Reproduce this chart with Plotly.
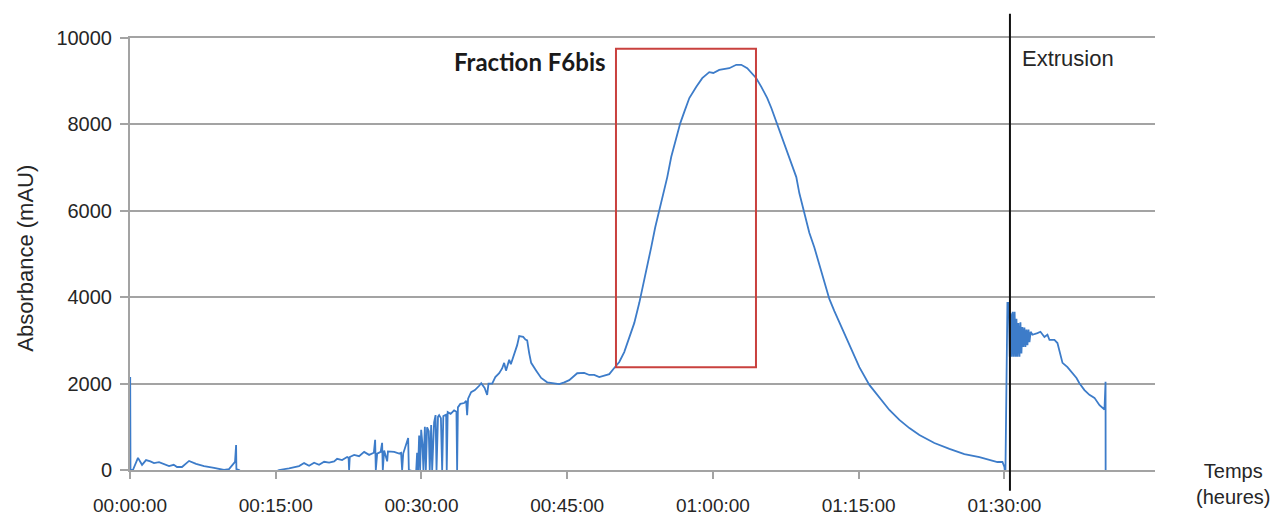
import plotly.graph_objects as go

# Chromatogram trace: elution time (minutes) and UV absorbance (mAU)
time_min = [
    0.0, 0.02, 0.05, 0.3, 0.82, 1.24, 1.65, 2.1, 2.47, 2.99, 3.5, 4.02, 4.5, 4.84,
    5.35, 6.08, 6.8, 7.62, 8.65, 9.68, 10.19, 10.6, 10.81, 10.92, 10.95, 11.22,
    12.0, 14.0, 15.34,
    16.37, 17.40, 17.92, 18.43, 18.95, 19.46, 19.98, 20.5, 21.01, 21.32, 21.83,
    22.35, 22.50, 22.55, 22.62, 23.07, 23.58, 24.10, 24.61, 25.10, 25.23, 25.30,
    25.44, 25.80, 25.95, 26.02, 26.16, 26.47, 26.55, 27.19, 27.70, 27.90, 28.01,
    28.12, 28.63, 28.70, 29.45, 29.55, 29.65, 29.76, 29.86, 29.97, 30.10, 30.20,
    30.35, 30.45, 30.58, 30.75, 30.85, 31.00, 31.10, 31.30, 31.45, 31.55, 31.70,
    31.82, 32.0, 32.13, 32.25, 32.54, 32.60, 32.70, 33.0, 33.36, 33.60, 33.67,
    33.75, 34.0, 34.39, 34.60, 34.70, 34.80, 35.11, 35.5, 35.94, 36.15, 36.50,
    36.76, 36.9, 37.28, 37.6, 38.0, 38.3, 38.51, 38.7, 39.03, 39.2, 39.54, 39.85,
    40.06, 40.30, 40.47, 40.70, 40.88, 41.09, 41.29, 41.81, 42.32, 42.94, 43.66,
    44.18, 44.7, 45.21, 46.03, 46.75, 47.27, 47.78, 48.30, 48.81, 49.33, 49.84,
    50.15,
    50.36, 50.87, 51.39, 51.90, 52.42, 52.72, 53.24, 53.65, 54.06, 54.48, 54.89,
    55.30, 55.71, 56.23, 56.64, 57.05, 57.57, 58.29, 58.90, 59.62, 60.04, 60.65,
    61.68, 62.40, 62.92, 63.53, 63.95, 64.46, 64.98, 65.59, 66.01, 66.52, 67.04,
    67.55, 68.07, 68.58, 68.89, 69.41, 69.92, 70.44, 70.85, 71.06, 71.47, 71.98,
    72.50, 73.01, 74.04, 75.07, 76.10, 77.13, 78.16, 79.19, 80.22, 81.25, 82.79,
    84.34, 85.88, 87.43, 88.46, 89.28, 89.80, 90.0, 90.10,
    90.31, 90.45, 90.55, 90.65, 90.75, 90.85, 90.95, 91.05, 91.15, 91.24, 91.34,
    91.44, 91.55, 91.65, 91.75, 91.85, 91.95, 92.06, 92.16, 92.27, 92.37, 92.48,
    92.58, 92.70, 92.88, 93.40, 93.71, 94.12, 94.43, 94.64, 95.15, 95.46, 95.67,
    95.98, 96.49, 96.90, 97.42, 97.72, 98.24, 98.75, 99.27, 99.79, 100.10, 100.30,
    100.41, 100.42,
]

absorbance_mau = [
    0, 2150, 0, 0, 280, 120, 230, 200, 160, 180, 130, 90, 120, 70,
    70, 210, 140, 90, 50, 0, 20, 120, 190, 580, 20, 0,
    -150, -150, 0,
    40, 90, 160, 100, 170, 120, 190, 170, 200, 260, 230,
    300, 280, 0, 300, 350, 320, 420, 350, 400, 700, 0,
    380, 420, 630, 0, 450, 200, 430, 420, 380, 400, 0,
    380, 740, 0, -50, 400, 0, 800, 0, 930, 600, 0,
    1000, 0, 990, 900, 0, 1040, 0, 1100, 1270, 0, 1230,
    1270, 1200, 0, 1250, 1280, 0, 1340, 1300, 1380, 1350, 0,
    1450, 1530, 1550, 1600, 1270, 1650, 1800, 1850, 1950, 2010, 1900,
    1740, 2000, 2000, 2150, 2240, 2350, 2480, 2300, 2550, 2450, 2660, 2890,
    3100, 3080, 3080, 3020, 3000, 2700, 2480, 2300, 2130, 2030, 2000,
    1990, 2030, 2080, 2240, 2250, 2200, 2200, 2150, 2180, 2220, 2360,
    2430,
    2500, 2730, 3050, 3400, 3870, 4170, 4700, 5160, 5620, 6020, 6410,
    6780, 7250, 7710, 8030, 8290, 8610, 8870, 9070, 9210, 9190, 9260,
    9300, 9380, 9380, 9300, 9190, 9070, 8870, 8610, 8380, 8060, 7710,
    7410, 7060, 6780, 6410, 5950, 5490, 5150, 4830, 4680, 4340, 3960,
    3680, 3420, 2890, 2380, 1970, 1670, 1390, 1160, 970, 810, 625,
    490, 370, 300, 230, 185, 185, 70, -150,
    3870, 3870, 2620, 3630, 2620, 3660, 2620, 3660, 2620, 3500, 2620,
    3400, 2620, 3420, 2700, 3310, 2850, 3300, 2850, 3250, 2890, 3250,
    2960, 3200, 3130, 3170, 3200, 3080, 3130, 3010, 3010, 2940, 2730,
    2480, 2380, 2270, 2130, 2010, 1850, 1740, 1670, 1500, 1440, 1400,
    2040, 0,
]

# Axis ticks
y_ticks = [0, 2000, 4000, 6000, 8000, 10000]
y_tick_labels = ["0", "2000", "4000", "6000", "8000", "10000"]
x_tick_minutes = [0, 15, 30, 45, 60, 75, 90]
x_tick_labels = ["00:00:00", "00:15:00", "00:30:00", "00:45:00",
                 "01:00:00", "01:15:00", "01:30:00"]

# Collected fraction window (minutes, mAU) and extrusion start (minutes)
fraction_window = [50.02, 64.43]
fraction_levels = [2380, 9750]
extrusion_start = 90.57

GRID = "#a3a3a3"
TEXT = "#262626"
SANS = "Liberation Sans, Arial, sans-serif"

fig = go.Figure()
fig.add_trace(go.Scatter(
    x=time_min, y=absorbance_mau, mode="lines",
    line=dict(color="#3d7cc9", width=1.8),
    hoverinfo="skip", showlegend=False,
))

fig.add_shape(type="rect", xref="x", yref="y",
              x0=fraction_window[0], x1=fraction_window[1],
              y0=fraction_levels[0], y1=fraction_levels[1],
              line=dict(color="#c9413e", width=2), layer="above")

fig.add_shape(type="line", xref="x", yref="paper",
              x0=extrusion_start, x1=extrusion_start, y0=-0.048, y1=1.056,
              line=dict(color="#111111", width=2), layer="above")

fig.add_annotation(x=fraction_window[0] - 0.8, y=9450, xref="x", yref="y",
                   text="<b>Fraction F6bis</b>", showarrow=False,
                   xanchor="right", yanchor="middle",
                   font=dict(family="Lato, Open Sans, sans-serif", size=24, color="#1a1a1a"))

fig.add_annotation(x=extrusion_start + 1.0, y=9520, xref="x", yref="y",
                   text="Extrusion", showarrow=False,
                   xanchor="left", yanchor="middle",
                   font=dict(family=SANS, size=22, color=TEXT))

fig.add_annotation(x=1.076, y=-0.032, xref="paper", yref="paper",
                   text="Temps<br>(heures)", showarrow=False, align="center",
                   xanchor="center", yanchor="middle",
                   font=dict(family=SANS, size=20, color=TEXT))

fig.add_annotation(x=-0.102, y=0.49, xref="paper", yref="paper",
                   text="Absorbance (mAU)", showarrow=False, textangle=-90,
                   xanchor="center", yanchor="middle",
                   font=dict(family=SANS, size=22, color=TEXT))

fig.update_layout(
    width=1278, height=516,
    margin=dict(l=130, r=123, t=38, b=46, autoexpand=False),
    paper_bgcolor="white", plot_bgcolor="white",
    xaxis=dict(
        range=[0, 105.5], tickmode="array", automargin=False,
        tickvals=x_tick_minutes, ticktext=x_tick_labels,
        showgrid=False, zeroline=False,
        showline=True, mirror=True, linecolor=GRID, linewidth=2,
        ticks="outside", ticklen=7, tickwidth=2, tickcolor=GRID,
        ticklabelstandoff=10,
        tickfont=dict(family=SANS, size=19, color=TEXT),
    ),
    yaxis=dict(
        range=[0, 10000], tickmode="array", automargin=False,
        tickvals=y_ticks, ticktext=y_tick_labels,
        showgrid=True, gridcolor=GRID, gridwidth=2,
        zeroline=False, showline=True, linecolor=GRID, linewidth=2,
        ticks="outside", ticklen=8, tickwidth=2, tickcolor=GRID,
        ticklabelstandoff=4,
        tickfont=dict(family=SANS, size=20, color=TEXT),
    ),
)

fig.write_html("out.html")
